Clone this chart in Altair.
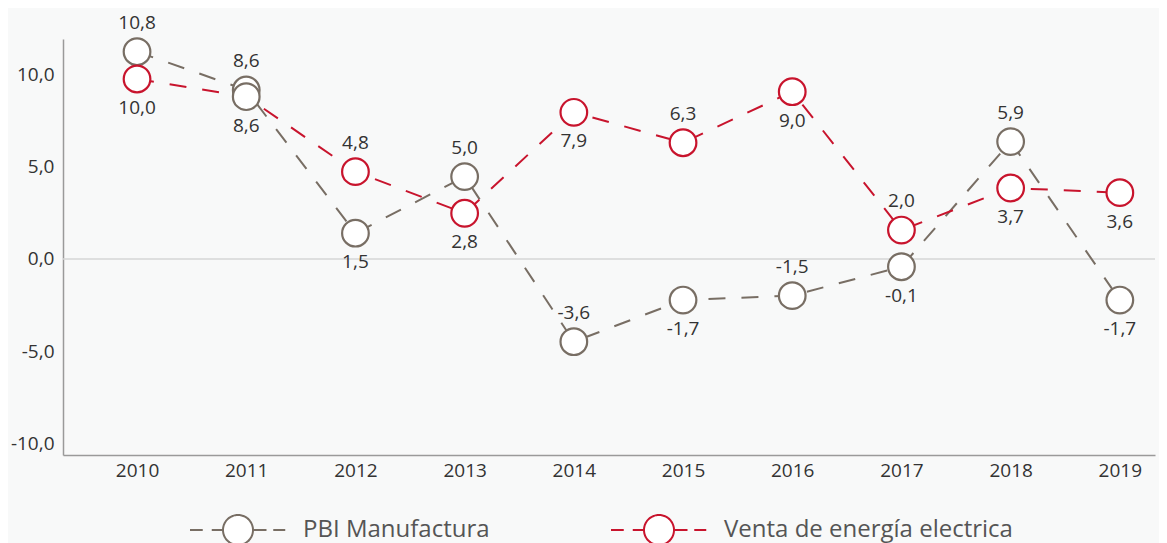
import altair as alt
import pandas as pd

ANIOS = [2010, 2011, 2012, 2013, 2014, 2015, 2016, 2017, 2018, 2019]
SERIES = ["PBI Manufactura", "Venta de energía electrica"]

PBI_VALOR = [11.25, 9.17, 1.40, 4.47, -4.49, -2.23, -1.99, -0.42, 6.37, -2.23]
PBI_ETIQUETA = ["10,8", "8,6", "1,5", "5,0", "-3,6", "-1,7", "-1,5", "-0,1", "5,9", "-1,7"]
PBI_LADO = ["arriba", "arriba", "abajo", "arriba", "arriba", "abajo", "arriba", "abajo", "arriba", "abajo"]
PBI_MARCADOR = [SERIES[0]] * 10

VENTA_VALOR = [9.77, 8.81, 4.74, 2.48, 7.96, 6.31, 9.08, 1.57, 3.85, 3.60]
VENTA_ETIQUETA = ["10,0", "8,6", "4,8", "2,8", "7,9", "6,3", "9,0", "2,0", "3,7", "3,6"]
VENTA_LADO = ["abajo", "abajo", "arriba", "abajo", "abajo", "arriba", "abajo", "arriba", "abajo", "abajo"]
VENTA_MARCADOR = [SERIES[1], SERIES[0], SERIES[1], SERIES[1], SERIES[1],
                  SERIES[1], SERIES[1], SERIES[1], SERIES[1], SERIES[1]]

Y_TICKS = [-10, -5, 0, 5, 10]

GRIS = "#786e64"
ROJO = "#c8142d"
FUENTE = "Open Sans"

filas = []
for serie, vals, etqs, lados, marcs in [
    (SERIES[0], PBI_VALOR, PBI_ETIQUETA, PBI_LADO, PBI_MARCADOR),
    (SERIES[1], VENTA_VALOR, VENTA_ETIQUETA, VENTA_LADO, VENTA_MARCADOR),
]:
    for a, v, e, l, m in zip(ANIOS, vals, etqs, lados, marcs):
        filas.append({"anio": a, "serie": serie, "valor": v, "etiqueta": e, "lado": l, "marcador": m})
df = pd.DataFrame(filas)

x_enc = alt.X(
    "anio:Q",
    scale=alt.Scale(domain=[2009.322, 2019.322], nice=False, zero=False),
    axis=alt.Axis(values=ANIOS, format="d", title=None, grid=False, ticks=False, tickSize=0,
                  labelPadding=6, domainColor="#9a9a9a", domainWidth=1.5,
                  labelFontSize=19, labelColor="#333333", labelFont=FUENTE, labelFlush=False),
)
y_enc = alt.Y(
    "valor:Q",
    scale=alt.Scale(domain=[-10.64, 11.94], nice=False, zero=False),
    axis=alt.Axis(values=Y_TICKS, title=None, grid=False, ticks=False, tickSize=0,
                  labelExpr="replace(replace(format(datum.value, '.1f'), '.', ','), '\u2212', '-')",
                  labelPadding=9, domainColor="#9a9a9a", domainWidth=1.5,
                  labelFontSize=19, labelColor="#333333", labelFont=FUENTE),
)

escala = alt.Scale(domain=SERIES, range=[GRIS, ROJO])

SIMBOLO = ("M-3.2,0H-2.35M-1.75,0H-1M1,0H1.9M2.35,0H3.15"
           "M-1,0A1,1,0,1,1,1,0A1,1,0,1,1,-1,0Z")

cero = alt.Chart(pd.DataFrame({"cero": [0]})).mark_rule(color="#d6d6d6", strokeWidth=1.5).encode(
    y=alt.Y("cero:Q")
)

lineas = alt.Chart(df).mark_line(strokeDash=[17, 16], strokeWidth=2).encode(
    x=x_enc,
    y=y_enc,
    color=alt.Color(
        "serie:N",
        scale=escala,
        legend=alt.Legend(
            title=None, orient="none", legendX=159, legendY=475, direction="horizontal",
            symbolType=SIMBOLO, symbolSize=900, symbolStrokeWidth=2, symbolFillColor="white",
            symbolDash=[1, 0], symbolOpacity=1,
            labelFontSize=24, labelFont=FUENTE, labelColor="#555555", labelOffset=49,
            columnPadding=117, labelLimit=500,
        ),
    ),
    order="anio:Q",
)

puntos = alt.Chart(df).mark_point(
    shape="circle", size=710, filled=False, fill="white", fillOpacity=1, strokeWidth=2.2, opacity=1
).encode(
    x=x_enc,
    y=y_enc,
    stroke=alt.Stroke("marcador:N", scale=escala, legend=None),
)

arriba = alt.Chart(df).transform_filter(alt.datum.lado == "arriba").mark_text(
    dy=-29, fontSize=19, font=FUENTE, color="#333333"
).encode(x=x_enc, y=y_enc, text="etiqueta:N")

abajo = alt.Chart(df).transform_filter(alt.datum.lado == "abajo").mark_text(
    dy=29, fontSize=19, font=FUENTE, color="#333333"
).encode(x=x_enc, y=y_enc, text="etiqueta:N")

chart = alt.layer(cero, lineas, puntos, arriba, abajo).properties(
    width=1092,
    height=416,
    autosize=alt.AutoSizeParams(type="none"),
    padding={"left": 55, "top": 31, "right": 4, "bottom": 100},
    background="#f8f9f9",
).configure_view(stroke=None)

chart.save("out.html", embed_options={"renderer": "svg", "actions": False})
